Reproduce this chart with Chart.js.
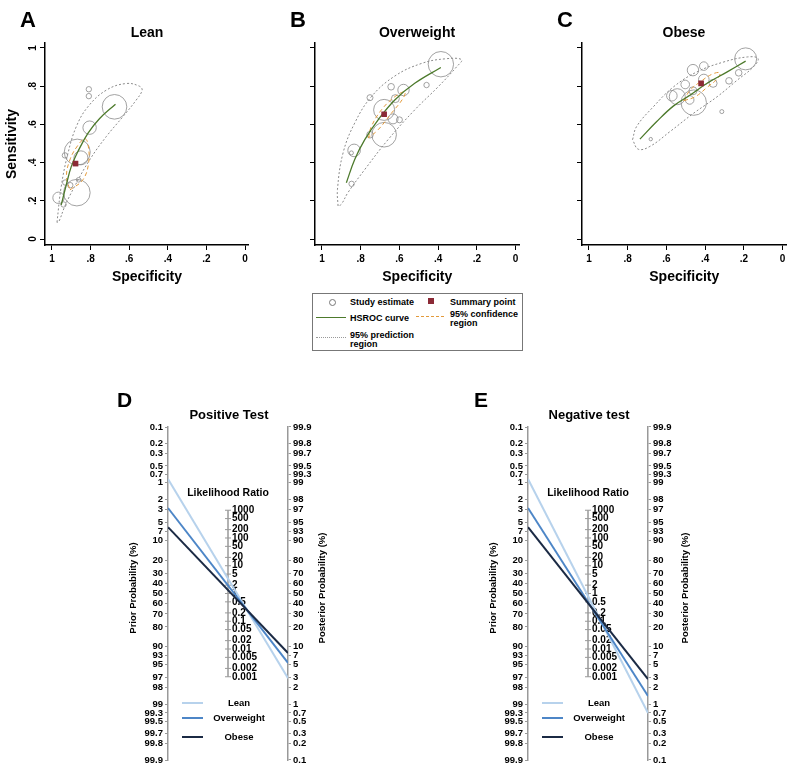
<!DOCTYPE html>
<html>
<head>
<meta charset="utf-8">
<title>HSROC and Fagan nomograms</title>
<script src="https://cdn.jsdelivr.net/npm/chart.js@4.4.1/dist/chart.umd.min.js"></script>
<style>
  body { margin: 0; background: #fff; }
  #page { position: relative; width: 800px; height: 775px; overflow: hidden; font-family: "Liberation Sans", Arial, sans-serif; }
  canvas { position: absolute; }
  .key { position: absolute; border: 1px solid #777; box-sizing: border-box; }
  .key span { position: absolute; display: block; }
  .key .txt { font-weight: bold; font-size: 9px; line-height: 9px; white-space: nowrap; color: #000; }
</style>
</head>
<body>
<div id="page">
  <canvas id="roc-lean" width="263" height="290" style="left:0px;top:0px"></canvas>
  <canvas id="roc-overweight" width="263" height="290" style="left:270px;top:0px"></canvas>
  <canvas id="roc-obese" width="263" height="290" style="left:537px;top:0px"></canvas>

  <div class="key" style="left:312px;top:293px;width:211px;height:58px">
    <span style="left:16px;top:5px;width:5px;height:5px;border:1px solid #777;border-radius:50%"></span>
    <span class="txt" style="left:37px;top:4px">Study estimate</span>
    <span style="left:115px;top:4px;width:6px;height:6px;background:#8b2a36"></span>
    <span class="txt" style="left:137px;top:4px">Summary point</span>
    <span style="left:3px;top:23px;width:30px;border-top:1px solid #4d7a2c"></span>
    <span class="txt" style="left:37px;top:20px">HSROC curve</span>
    <span style="left:103px;top:22px;width:28px;border-top:1px dashed #e39a3b"></span>
    <span class="txt" style="left:137px;top:16px">95% confidence<br>region</span>
    <span style="left:3px;top:43px;width:30px;border-top:1px dotted #999"></span>
    <span class="txt" style="left:37px;top:37px">95% prediction<br>region</span>
  </div>

  <canvas id="fagan-positive" width="260" height="385" style="left:100px;top:390px"></canvas>
  <canvas id="fagan-negative" width="260" height="385" style="left:460px;top:390px"></canvas>
</div>

<script>
const FONT = '"Liberation Sans", Arial, sans-serif';
Chart.defaults.font.family = FONT;
Chart.defaults.color = '#000';

// ---- HSROC panels: [specificity, sensitivity, study weight] ----
const rocTicks = [0, 0.2, 0.4, 0.6, 0.8, 1];
const rocTickLabels = ['0', '.2', '.4', '.6', '.8', '1'];

const leanStudies = [
  [0.809, 0.784, 2.7], [0.809, 0.748, 2.7], [0.676, 0.692, 12.3], [0.805, 0.583, 6.7],
  [0.869, 0.455, 13], [0.850, 0.425, 7], [0.933, 0.438, 2.7], [0.862, 0.310, 2.3],
  [0.931, 0.296, 2.7], [0.905, 0.282, 2.7], [0.871, 0.243, 13.3], [0.966, 0.216, 5.7],
  [0.940, 0.181, 2.7]
];
const leanSummary = [0.878, 0.395];
const leanCurve = [[0.952, 0.179], [0.926, 0.283], [0.900, 0.379], [0.866, 0.457], [0.814, 0.553], [0.753, 0.631], [0.671, 0.706]];
const leanConfidence = [[0.907, 0.257], [0.840, 0.310], [0.810, 0.400], [0.814, 0.500], [0.830, 0.525], [0.866, 0.490], [0.905, 0.420], [0.925, 0.330], [0.907, 0.257]];
const leanPrediction = [
  [0.974, 0.087], [0.952, 0.275], [0.917, 0.449], [0.874, 0.588], [0.814, 0.692], [0.719, 0.779], [0.616, 0.814],
  [0.547, 0.800], [0.533, 0.779], [0.564, 0.727], [0.633, 0.640], [0.719, 0.536], [0.805, 0.414], [0.883, 0.275],
  [0.934, 0.170], [0.964, 0.092], [0.974, 0.087]
];

const overweightStudies = [
  [0.386, 0.915, 12.7], [0.643, 0.797, 3.3], [0.579, 0.780, 5.7], [0.460, 0.806, 2.7], [0.752, 0.740, 3],
  [0.679, 0.676, 10.5], [0.633, 0.629, 5], [0.600, 0.624, 3], [0.679, 0.546, 12.3], [0.752, 0.546, 3.3],
  [0.834, 0.464, 6.3], [0.848, 0.451, 2], [0.847, 0.289, 2.7], [0.621, 0.735, 4]
];
const overweightSummary = [0.679, 0.653];
const overweightCurve = [[0.874, 0.295], [0.831, 0.416], [0.779, 0.520], [0.710, 0.624], [0.624, 0.728], [0.521, 0.815], [0.386, 0.898]];
const overweightConfidence = [[0.760, 0.530], [0.745, 0.589], [0.693, 0.676], [0.624, 0.745], [0.572, 0.771], [0.581, 0.737], [0.641, 0.659], [0.710, 0.572], [0.760, 0.530]];
const overweightPrediction = [
  [0.917, 0.173], [0.920, 0.260], [0.891, 0.451], [0.831, 0.607], [0.745, 0.745], [0.624, 0.853], [0.486, 0.919],
  [0.366, 0.943], [0.279, 0.939], [0.305, 0.901], [0.400, 0.797], [0.521, 0.676], [0.659, 0.520], [0.779, 0.364],
  [0.866, 0.243], [0.900, 0.182], [0.917, 0.173]
];

const obeseStudies = [
  [0.191, 0.943, 11], [0.463, 0.884, 5.7], [0.407, 0.905, 4.3], [0.227, 0.870, 3.3], [0.277, 0.828, 3.3],
  [0.503, 0.809, 4.3], [0.407, 0.835, 5.3], [0.359, 0.815, 4], [0.463, 0.776, 4], [0.544, 0.745, 8],
  [0.572, 0.750, 5.3], [0.480, 0.728, 4.3], [0.459, 0.714, 12.7], [0.314, 0.667, 2], [0.681, 0.523, 1.7]
];
const obeseSummary = [0.421, 0.815];
const obeseCurve = [[0.737, 0.523], [0.650, 0.615], [0.563, 0.697], [0.477, 0.754], [0.390, 0.815], [0.286, 0.875], [0.191, 0.931]];
const obeseConfidence = [[0.511, 0.724], [0.477, 0.780], [0.425, 0.823], [0.364, 0.863], [0.324, 0.870], [0.335, 0.841], [0.390, 0.794], [0.451, 0.745], [0.511, 0.724]];
const obesePrediction = [
  [0.775, 0.520], [0.754, 0.589], [0.667, 0.693], [0.563, 0.797], [0.442, 0.875], [0.303, 0.927], [0.182, 0.953],
  [0.127, 0.945], [0.151, 0.901], [0.234, 0.832], [0.338, 0.745], [0.459, 0.659], [0.581, 0.563], [0.685, 0.485],
  [0.745, 0.470], [0.775, 0.520]
];

// ---- Fagan nomograms (probabilities in %) ----
const groups = ['Lean', 'Overweight', 'Obese'];
const priorProb = [0.86, 2.8, 6.0];
const postProbPositive = [2.9, 5.3, 7.8];
const postProbNegative = [0.7, 1.4, 2.8];
const probTicks = [0.1, 0.2, 0.3, 0.5, 0.7, 1, 2, 3, 5, 7, 10, 20, 30, 40, 50, 60, 70, 80, 90, 93, 95, 97, 98, 99, 99.3, 99.5, 99.7, 99.8, 99.9];
const lrTicks = [1000, 500, 200, 100, 50, 20, 10, 5, 2, 1, 0.5, 0.2, 0.1, 0.05, 0.02, 0.01, 0.005, 0.002, 0.001];

const groupColors = ['#b7d2ec', '#4d86c7', '#1b2a44'];

// nomogram axis position in logit units
const logit = p => Math.log(p / (100 - p));
const lrPosition = lr => -Math.log(lr) / 2;

// free text placed on a canvas
const panelText = {
  id: 'panelText',
  afterDraw(chart, args, opts) {
    const ctx = chart.ctx;
    (opts.items || []).forEach(t => {
      ctx.save();
      ctx.font = t.font;
      ctx.fillStyle = '#000';
      ctx.textAlign = t.align || 'center';
      ctx.textBaseline = 'middle';
      ctx.translate(t.x, t.y);
      if (t.rotate) ctx.rotate(t.rotate);
      ctx.fillText(t.text, 0, 0);
      ctx.restore();
    });
  }
};

function rocPanel(id, letter, title, studies, summary, curve, confidence, prediction, showY) {
  const toPoints = rows => rows.map(([x, y]) => ({x, y}));
  const tickFont = {size: 10, weight: 'bold'};
  const titleFont = {size: 14, weight: 'bold'};

  new Chart(document.getElementById(id), {
    type: 'scatter',
    data: {
      datasets: [
        {type: 'scatter', data: toPoints([summary]), pointStyle: 'rect', pointRadius: 4,
          backgroundColor: '#8b2a36', borderColor: '#8b2a36', borderWidth: 0},
        {type: 'line', data: toPoints(curve), borderColor: '#4d7a2c', borderWidth: 1.3, pointRadius: 0, tension: 0.4},
        {type: 'line', data: toPoints(confidence), borderColor: '#e39a3b', borderWidth: 1, borderDash: [4, 3], pointRadius: 0, tension: 0.4},
        {type: 'bubble', data: studies.map(([x, y, w]) => ({x, y, r: w})),
          backgroundColor: 'rgba(0,0,0,0)', borderColor: '#8a8a8a', borderWidth: 0.8},
        {type: 'line', data: toPoints(prediction), borderColor: '#8a8a8a', borderWidth: 1, borderDash: [2, 2], pointRadius: 0, tension: 0.4}
      ]
    },
    options: {
      responsive: false,
      animation: false,
      layout: {padding: {left: 0, right: 13, top: 43, bottom: 0}},
      plugins: {
        legend: {display: false},
        tooltip: {enabled: false},
        panelText: {items: [
          {text: letter, x: 20, y: 21, font: `bold 22px ${FONT}`, align: 'left'},
          {text: title, x: 147, y: 33, font: `bold 14px ${FONT}`}
        ]}
      },
      scales: {
        x: {
          type: 'linear', reverse: true, min: -0.02, max: 1.036,
          afterBuildTicks: s => { s.ticks = rocTicks.map(v => ({value: v})); },
          afterFit: s => { s.height = 45; },
          ticks: {autoSkip: false, maxRotation: 0, font: tickFont, color: '#000', padding: 3,
            callback: (v, i) => rocTickLabels[i]},
          grid: {drawOnChartArea: false, tickLength: 5, color: '#000'},
          border: {color: '#000', width: 1.5},
          title: {display: true, text: 'Specificity', font: titleFont, color: '#000'}
        },
        y: {
          type: 'linear', min: -0.031, max: 1.026,
          afterBuildTicks: s => { s.ticks = rocTicks.map(v => ({value: v})); },
          afterFit: s => { s.width = 45; },
          ticks: {display: showY, autoSkip: false, minRotation: 90, maxRotation: 90, crossAlign: 'center',
            font: tickFont, color: '#000', padding: 3, callback: (v, i) => rocTickLabels[i]},
          grid: {drawOnChartArea: false, tickLength: 5, color: '#000'},
          border: {color: '#000', width: 1.5},
          title: {display: showY, text: 'Sensitivity', font: titleFont, color: '#000'}
        }
      }
    },
    plugins: [panelText]
  });
}

rocPanel('roc-lean', 'A', 'Lean', leanStudies, leanSummary, leanCurve, leanConfidence, leanPrediction, true);
rocPanel('roc-overweight', 'B', 'Overweight', overweightStudies, overweightSummary, overweightCurve, overweightConfidence, overweightPrediction, false);
rocPanel('roc-obese', 'C', 'Obese', obeseStudies, obeseSummary, obeseCurve, obeseConfidence, obesePrediction, false);

// likelihood-ratio axis in the middle of the nomogram
const lrAxis = {
  id: 'lrAxis',
  beforeDatasetsDraw(chart) {
    const ctx = chart.ctx;
    const y = chart.scales.yPrior;
    const x = chart.scales.x.getPixelForValue(0.5);
    const top = y.getPixelForValue(lrPosition(lrTicks[0]));
    const bottom = y.getPixelForValue(lrPosition(lrTicks[lrTicks.length - 1]));
    ctx.save();
    ctx.strokeStyle = '#999';
    ctx.lineWidth = 1.5;
    ctx.beginPath();
    ctx.moveTo(x, top);
    ctx.lineTo(x, bottom);
    ctx.stroke();
    ctx.lineWidth = 1;
    ctx.font = `bold 10px ${FONT}`;
    ctx.fillStyle = '#000';
    ctx.textBaseline = 'middle';
    ctx.textAlign = 'left';
    lrTicks.forEach(lr => {
      const py = y.getPixelForValue(lrPosition(lr));
      ctx.beginPath();
      ctx.moveTo(x - 3, py);
      ctx.lineTo(x + 3, py);
      ctx.stroke();
      ctx.fillText(String(lr), x + 4, py);
    });
    ctx.restore();
  }
};

const nomogramKey = {
  id: 'nomogramKey',
  afterDatasetsDraw(chart, args, opts) {
    const ctx = chart.ctx;
    const left = chart.chartArea.left;
    ctx.save();
    ctx.font = `bold 9.5px ${FONT}`;
    ctx.textAlign = 'center';
    ctx.textBaseline = 'middle';
    ctx.fillStyle = '#000';
    chart.data.datasets.forEach((ds, i) => {
      const y = opts.rows[i];
      ctx.strokeStyle = ds.borderColor;
      ctx.lineWidth = 2;
      ctx.beginPath();
      ctx.moveTo(left + 14, y);
      ctx.lineTo(left + 35, y);
      ctx.stroke();
      ctx.fillText(ds.label, left + 71, y);
    });
    ctx.restore();
  }
};

function nomogram(id, letter, letterX, title, posterior, postTitleX) {
  const probAxis = (position, sign) => ({
    position: position, reverse: true, min: logit(0.1), max: logit(99.9),
    afterBuildTicks: s => { s.ticks = probTicks.map(p => ({value: sign * logit(p)})); },
    afterFit: s => { s.width = 40; },
    ticks: {autoSkip: false, font: {size: 9.5, weight: 'bold'}, color: '#000', padding: 2,
      callback: (v, i) => String(probTicks[i])},
    grid: {drawOnChartArea: false, tickLength: 3, color: '#999'},
    border: {color: '#999', width: 1.5}
  });

  new Chart(document.getElementById(id), {
    type: 'line',
    data: {
      datasets: groups.map((g, i) => ({
        label: g,
        data: [{x: 0, y: logit(priorProb[i])}, {x: 1, y: -logit(posterior[i])}],
        borderColor: groupColors[i],
        borderWidth: 2,
        pointRadius: 0,
        yAxisID: 'yPrior',
        order: 2 - i
      }))
    },
    options: {
      responsive: false,
      animation: false,
      layout: {padding: {left: 28, right: 32, top: 37, bottom: 15}},
      plugins: {
        legend: {display: false},
        tooltip: {enabled: false},
        nomogramKey: {rows: [313, 328, 347]},
        panelText: {items: [
          {text: letter, x: letterX, y: 11, font: `bold 21px ${FONT}`, align: 'left'},
          {text: title, x: 129, y: 25, font: `bold 13px ${FONT}`},
          {text: 'Likelihood Ratio', x: 128, y: 103, font: `bold 10.5px ${FONT}`},
          {text: 'Prior Probability (%)', x: 33, y: 198, font: `bold 9.5px ${FONT}`, rotate: -Math.PI / 2},
          {text: 'Posterior Probability (%)', x: postTitleX, y: 198, font: `bold 9.5px ${FONT}`, rotate: -Math.PI / 2}
        ]}
      },
      scales: {
        x: {type: 'linear', min: 0, max: 1, display: false},
        yPrior: probAxis('left', 1),
        yPost: probAxis('right', -1)
      }
    },
    plugins: [lrAxis, nomogramKey, panelText]
  });
}

nomogram('fagan-positive', 'D', 17, 'Positive Test', postProbPositive, 222);
nomogram('fagan-negative', 'E', 14, 'Negative test', postProbNegative, 225);
</script>
</body>
</html>
